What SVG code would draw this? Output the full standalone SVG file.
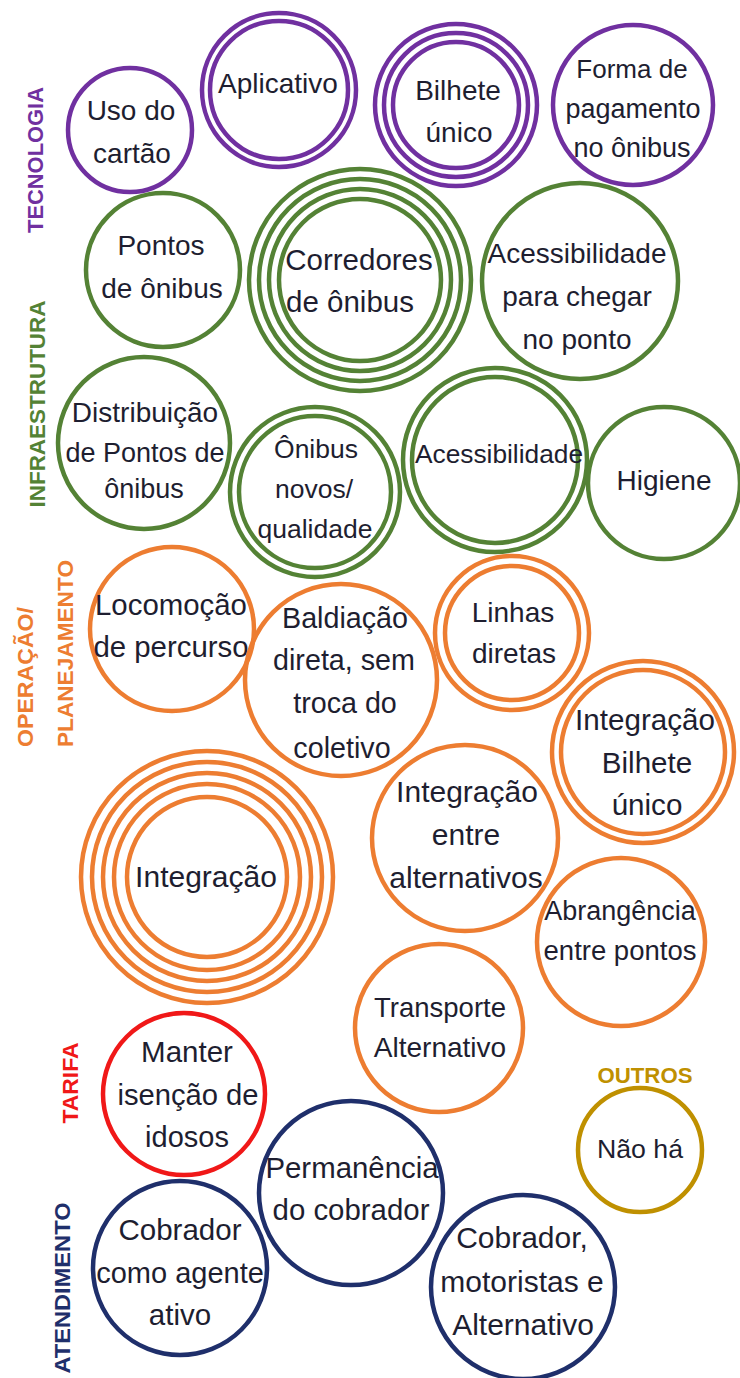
<svg xmlns="http://www.w3.org/2000/svg" width="740" height="1378" viewBox="0 0 740 1378">
<style>
  circle { fill: none; stroke-width: 4.5; }
  .pu { stroke: #7030A0; }
  .gr { stroke: #548235; }
  .or { stroke: #ED7D31; }
  .rd { stroke: #F01818; }
  .nv { stroke: #1F2F6B; }
  .gd { stroke: #BF9000; }
  text { font-family: "Liberation Sans", Arial, sans-serif; fill: #1E1E30; text-anchor: middle; font-size: 28px; }
  .cat { font-weight: bold; font-size: 22px; }
  .cpu { fill: #7030A0; }
  .cgr { fill: #548235; }
  .cor { fill: #ED7D31; }
  .crd { fill: #F01818; }
  .cnv { fill: #1F2F6B; }
  .cgd { fill: #BF9000; }
</style>
<rect width="740" height="1378" fill="#FFFFFF"/>
<g id="connectors"/>
<g id="labels">
  <text class="cat cpu" transform="translate(43,160) rotate(-90)" textLength="146" lengthAdjust="spacingAndGlyphs">TECNOLOGIA</text>
  <text class="cat cgr" transform="translate(45,404) rotate(-90)" textLength="207" lengthAdjust="spacingAndGlyphs">INFRAESTRUTURA</text>
  <text class="cat cor" style="text-anchor:start" transform="translate(33,747) rotate(-90)" textLength="140" lengthAdjust="spacingAndGlyphs">OPERAÇÃO/</text>
  <text class="cat cor" style="text-anchor:start" transform="translate(73,747) rotate(-90)" textLength="187" lengthAdjust="spacingAndGlyphs">PLANEJAMENTO</text>
  <text class="cat crd" transform="translate(78,1083) rotate(-90)" textLength="81" lengthAdjust="spacingAndGlyphs">TARIFA</text>
  <text class="cat cnv" transform="translate(70,1288) rotate(-90)" textLength="171" lengthAdjust="spacingAndGlyphs">ATENDIMENTO</text>
  <text class="cat cgd" x="645" y="1083" textLength="95" lengthAdjust="spacingAndGlyphs">OUTROS</text>
</g>
<g id="uso-do-cartao">
  <circle class="pu" cx="130" cy="130" r="62"/>
  <text x="131" y="120">Uso do</text>
  <text x="132" y="163">cartão</text>
</g>
<g id="aplicativo">
  <circle class="pu" cx="279" cy="90" r="77"/>
  <circle class="pu" cx="279" cy="90" r="69"/>
  <text x="278" y="93">Aplicativo</text>
</g>
<g id="bilhete-unico">
  <circle class="pu" cx="456" cy="105" r="81"/>
  <circle class="pu" cx="456" cy="105" r="72"/>
  <circle class="pu" cx="456" cy="105" r="63"/>
  <text x="458" y="100">Bilhete</text>
  <text x="459" y="142">único</text>
</g>
<g id="forma-de-pagamento">
  <circle class="pu" cx="633" cy="105" r="80"/>
  <text x="632" y="78" style="font-size:26px">Forma de</text>
  <text x="633" y="118" style="font-size:27px">pagamento</text>
  <text x="632" y="157" style="font-size:27px">no ônibus</text>
</g>
<g id="pontos-de-onibus">
  <circle class="gr" cx="163" cy="270" r="77"/>
  <text x="161" y="255">Pontos</text>
  <text x="162" y="298">de ônibus</text>
</g>
<g id="corredores-de-onibus">
  <circle class="gr" cx="360" cy="280" r="111"/>
  <circle class="gr" cx="360" cy="280" r="101"/>
  <circle class="gr" cx="360" cy="280" r="91"/>
  <circle class="gr" cx="360" cy="280" r="81"/>
  <text x="359" y="270" style="font-size:29.5px">Corredores</text>
  <text x="350" y="312" style="font-size:29.5px">de ônibus</text>
</g>
<g id="acessibilidade-para-chegar">
  <circle class="gr" cx="580" cy="281" r="98"/>
  <text x="577" y="263">Acessibilidade</text>
  <text x="577" y="306">para chegar</text>
  <text x="577" y="349">no ponto</text>
</g>
<g id="distribuicao-de-pontos">
  <circle class="gr" cx="144" cy="443" r="86"/>
  <text x="145" y="422">Distribuição</text>
  <text x="145" y="462" style="font-size:27px">de Pontos de</text>
  <text x="144" y="498" style="font-size:27px">ônibus</text>
</g>
<g id="onibus-novos-qualidade">
  <circle class="gr" cx="315" cy="492" r="85"/>
  <circle class="gr" cx="315" cy="492" r="76"/>
  <text x="316" y="458" style="font-size:26.5px">Ônibus</text>
  <text x="314" y="498" style="font-size:26.5px">novos/</text>
  <text x="315" y="538" style="font-size:26.5px">qualidade</text>
</g>
<g id="acessibilidade">
  <circle class="gr" cx="495" cy="460" r="92"/>
  <circle class="gr" cx="495" cy="460" r="83"/>
  <text x="499" y="463" style="font-size:26.3px">Acessibilidade</text>
</g>
<g id="higiene">
  <circle class="gr" cx="664" cy="483" r="76"/>
  <text x="664" y="490">Higiene</text>
</g>
<g id="locomocao-de-percurso">
  <circle class="or" cx="172" cy="629" r="82"/>
  <text x="171" y="615" style="font-size:29.4px">Locomoção</text>
  <text x="171" y="657" style="font-size:29.4px">de percurso</text>
</g>
<g id="baldiacao-direta">
  <circle class="or" cx="341" cy="680" r="96"/>
  <text x="345" y="628" style="font-size:28.7px">Baldiação</text>
  <text x="344" y="670" style="font-size:28.7px">direta, sem</text>
  <text x="345" y="713" style="font-size:28.7px">troca do</text>
  <text x="342" y="758" style="font-size:28.7px">coletivo</text>
</g>
<g id="linhas-diretas">
  <circle class="or" cx="512" cy="633" r="77"/>
  <circle class="or" cx="512" cy="633" r="67"/>
  <text x="513" y="622">Linhas</text>
  <text x="514" y="663">diretas</text>
</g>
<g id="integracao-bilhete-unico">
  <circle class="or" cx="643" cy="752" r="91"/>
  <circle class="or" cx="643" cy="752" r="82"/>
  <text x="645" y="730" style="font-size:29.6px">Integração</text>
  <text x="647" y="773" style="font-size:29.6px">Bilhete</text>
  <text x="647" y="815" style="font-size:29.6px">único</text>
</g>
<g id="integracao">
  <circle class="or" cx="207" cy="877" r="126"/>
  <circle class="or" cx="207" cy="877" r="115"/>
  <circle class="or" cx="207" cy="877" r="104"/>
  <circle class="or" cx="207" cy="877" r="93"/>
  <circle class="or" cx="207" cy="877" r="80"/>
  <text x="206" y="887" style="font-size:30px">Integração</text>
</g>
<g id="integracao-entre-alternativos">
  <circle class="or" cx="465" cy="838" r="93"/>
  <text x="467" y="802" style="font-size:30px">Integração</text>
  <text x="466" y="845" style="font-size:30px">entre</text>
  <text x="466" y="888" style="font-size:30px">alternativos</text>
</g>
<g id="abrangencia-entre-pontos">
  <circle class="or" cx="621" cy="942" r="84"/>
  <text x="620" y="920" style="font-size:27px">Abrangência</text>
  <text x="620" y="960" style="font-size:27.5px">entre pontos</text>
</g>
<g id="transporte-alternativo">
  <circle class="or" cx="439" cy="1028" r="84"/>
  <text x="440" y="1017" style="font-size:27.5px">Transporte</text>
  <text x="440" y="1057" style="font-size:28px">Alternativo</text>
</g>
<g id="manter-isencao-de-idosos">
  <circle class="rd" cx="184" cy="1094" r="81"/>
  <text x="187" y="1062" style="font-size:29.5px">Manter</text>
  <text x="188" y="1105" style="font-size:29.2px">isenção de</text>
  <text x="187" y="1147" style="font-size:29px">idosos</text>
</g>
<g id="permanencia-do-cobrador">
  <circle class="nv" cx="351" cy="1193" r="92"/>
  <text x="352" y="1178" style="font-size:29.4px">Permanência</text>
  <text x="351" y="1220" style="font-size:29.4px">do cobrador</text>
</g>
<g id="cobrador-como-agente-ativo">
  <circle class="nv" cx="180" cy="1268" r="87"/>
  <text x="180" y="1240" style="font-size:29.5px">Cobrador</text>
  <text x="180" y="1283" style="font-size:29px">como agente</text>
  <text x="180" y="1325" style="font-size:29.5px">ativo</text>
</g>
<g id="cobrador-motoristas-alternativo">
  <circle class="nv" cx="523" cy="1287" r="92"/>
  <text x="522" y="1248" style="font-size:30px">Cobrador,</text>
  <text x="522" y="1292" style="font-size:30px">motoristas e</text>
  <text x="523" y="1335" style="font-size:30px">Alternativo</text>
</g>
<g id="nao-ha">
  <circle class="gd" cx="640" cy="1150" r="62"/>
  <text x="640" y="1158" style="font-size:26.7px">Não há</text>
</g>
</svg>
